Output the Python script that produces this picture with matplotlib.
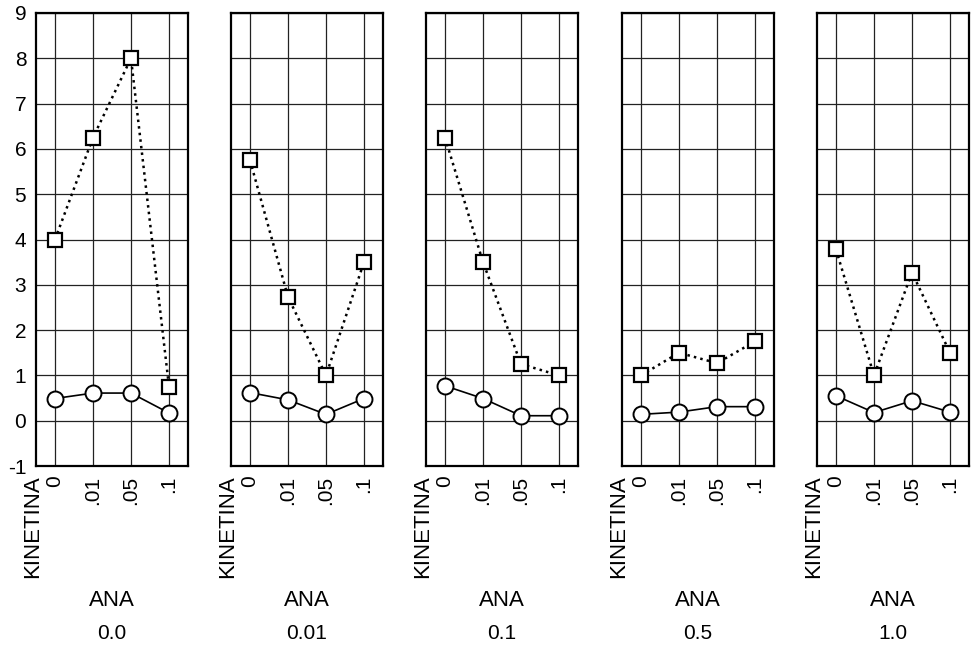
import numpy as np
import matplotlib.pyplot as plt

plt.rcParams['font.family'] = ['Liberation Sans', 'DejaVu Sans']

# Datos
kinetina = ['0', '.01', '.05', '.1']
ana = ['0.0', '0.01', '0.1', '0.5', '1.0']

cuadrados = [
    [4.0, 6.25, 8.0, 0.75],
    [5.75, 2.73, 1.0, 3.5],
    [6.25, 3.5, 1.25, 1.0],
    [1.0, 1.5, 1.27, 1.75],
    [3.78, 1.0, 3.27, 1.5],
]
circulos = [
    [0.49, 0.61, 0.61, 0.17],
    [0.62, 0.46, 0.14, 0.49],
    [0.77, 0.49, 0.11, 0.11],
    [0.14, 0.19, 0.31, 0.31],
    [0.55, 0.18, 0.44, 0.19],
]


def graficar():
    fig = plt.figure(figsize=(9.73, 6.47), dpi=100)
    x = np.arange(len(kinetina))
    ancho = 152 / 973
    alto = 453 / 647
    abajo = 1 - 466 / 647
    izquierdas = [36, 231, 426, 622, 817]

    for i, izq in enumerate(izquierdas):
        ax = fig.add_axes([izq / 973, abajo, ancho, alto])
        ax.set_xlim(-0.5, 3.5)
        ax.set_ylim(-1, 9)
        ax.set_xticks(x)
        ax.set_xticklabels(kinetina, rotation=90, fontsize=15)
        ax.set_yticks(range(-1, 10))
        if i == 0:
            ax.set_yticklabels([str(v) for v in range(-1, 10)], fontsize=15)
        else:
            ax.set_yticklabels([])
        ax.tick_params(length=0, pad=7)
        ax.grid(True, color='#222222', linewidth=0.9)
        ax.set_axisbelow(True)
        for s in ax.spines.values():
            s.set_linewidth(1.6)

        ax.plot(x, cuadrados[i], linestyle=':', color='black', linewidth=1.8,
                marker='s', markersize=10.5, markerfacecolor='white',
                markeredgecolor='black', markeredgewidth=1.6, zorder=3)
        ax.plot(x, circulos[i], linestyle='-', color='black', linewidth=1.2,
                marker='o', markersize=11.5, markerfacecolor='white',
                markeredgecolor='black', markeredgewidth=1.4, zorder=4)

        ax.text(-0.025, -0.02, 'KINETINA', rotation=90, ha='center', va='top',
                fontsize=16, transform=ax.transAxes)
        ax.text(0.5, -0.296, 'ANA', ha='center', va='center',
                fontsize=16, transform=ax.transAxes)
        ax.text(0.5, -0.369, ana[i], ha='center', va='center',
                fontsize=15, transform=ax.transAxes)

    fig.savefig('out.png', dpi=100)


def main():
    graficar()


if __name__ == "__main__":
    main()
